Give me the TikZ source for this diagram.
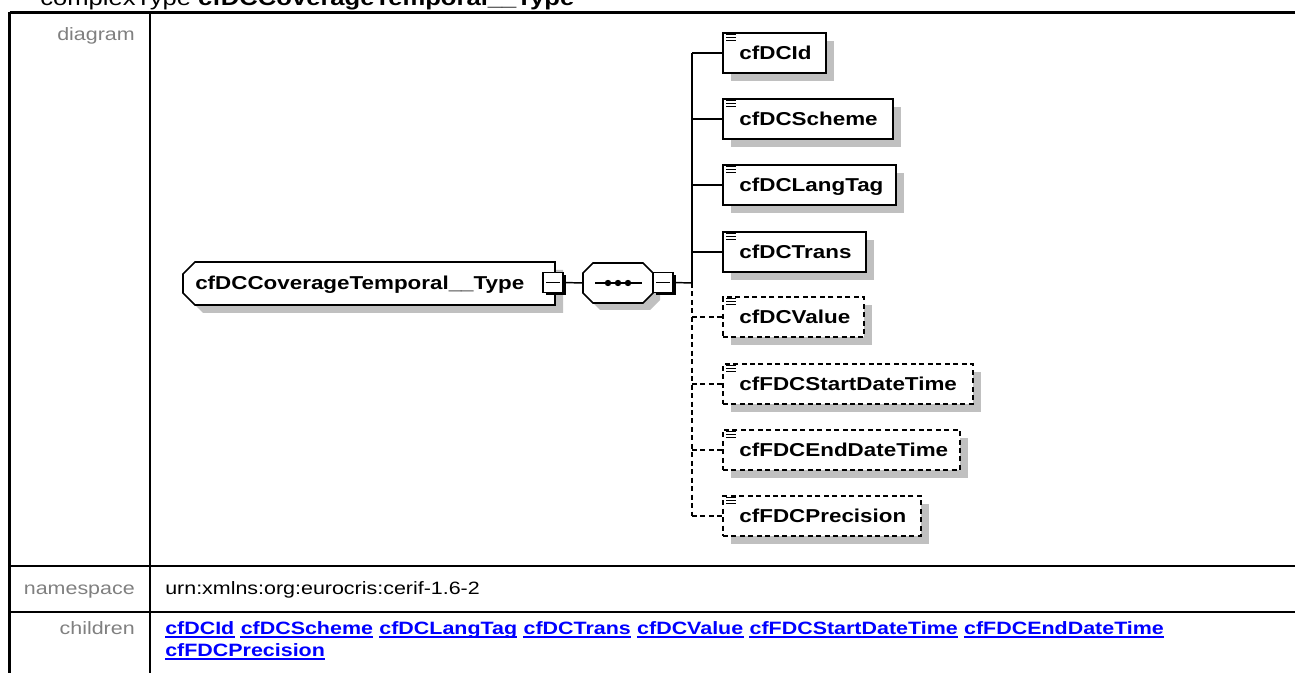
\documentclass[tikz,border=0pt]{standalone}
\usepackage{fontspec}
\setmainfont{Liberation Sans}[FakeStretch=1.2]
\usetikzlibrary{fit,shadows}
\definecolor{shadowgray}{RGB}{192,192,192}
\definecolor{labelgray}{RGB}{128,128,128}
\definecolor{linkblue}{RGB}{0,0,255}
\newcommand{\txtsize}{\fontsize{14pt}{16pt}\selectfont}
\newcommand{\tblsize}{\fontsize{13.4pt}{16pt}\selectfont}
\newcommand{\ttlsize}{\fontsize{16pt}{19pt}\selectfont}
\begin{document}
\begin{tikzpicture}[x=0.75pt,y=-0.75pt,
  tbl/.style={line width=1.6pt},
  conn/.style={line width=1.1pt},
  dconn/.style={line width=1.1pt, dash pattern=on 3.75pt off 2.6pt},
  elem/.style={draw, fill=white, line width=1.2pt, inner sep=0pt,
    drop shadow={shadow xshift=6pt, shadow yshift=-6pt, fill=shadowgray, opacity=1}},
  optelem/.style={elem, dash pattern=on 3.75pt off 2.6pt},
  minusbox/.style={draw, fill=white, line width=1.2pt, minimum size=15pt, inner sep=0pt,
    drop shadow={shadow xshift=2pt, shadow yshift=-2pt, fill=black, opacity=1}},
  txt/.style={font=\txtsize, inner sep=0pt, anchor=base west},
  ttxt/.style={font=\tblsize, inner sep=0pt, anchor=base west},
  link/.style={font=\tblsize\bfseries, text=linkblue, inner sep=0pt, anchor=base west},
  rowlbl/.style={font=\tblsize, text=labelgray, inner sep=0pt, anchor=base east},
  anchorbox/.style={inner sep=0pt}]
\useasboundingbox (0,0) rectangle (1295,673);
% ---- table ----
\draw[tbl] (9.5,12.5) -- (1297,12.5);
\draw[tbl] (9.5,12.5) -- (9.5,675);
\draw[tbl] (150,12.5) -- (150,675);
\draw[tbl] (9.5,566) -- (1297,566);
\draw[tbl] (9.5,612) -- (1297,612);
\node[font=\ttlsize, inner sep=0pt, anchor=base west] (title) at (40,5.5) {complexType \textbf{cfDCCoverageTemporal\_\_Type}};
\node[rowlbl] (ldiagram) at (135,41) {diagram};
\node[rowlbl] (lnamespace) at (135,594) {namespace};
\node[rowlbl] (lchildren) at (135,634) {children};
\node[ttxt] (nsval) at (165,594) {urn:xmlns:org:eurocris:cerif-1.6-2};
% links
\node[link] (k1) at (165,634) {cfDCId};
\node[link] (k2) at ([xshift=4.4pt]k1.base east) {cfDCScheme};
\node[link] (k3) at ([xshift=4.4pt]k2.base east) {cfDCLangTag};
\node[link] (k4) at ([xshift=4.4pt]k3.base east) {cfDCTrans};
\node[link] (k5) at ([xshift=4.4pt]k4.base east) {cfDCValue};
\node[link] (k6) at ([xshift=4.4pt]k5.base east) {cfFDCStartDateTime};
\node[link] (k7) at ([xshift=4.4pt]k6.base east) {cfFDCEndDateTime};
\node[link] (k8) at (165,656) {cfFDCPrecision};
\foreach \k in {k1,k2,k3,k4,k5,k6,k7,k8}
  \draw[linkblue, line width=1.3pt] ([yshift=-2.2pt]\k.base west) -- ([yshift=-2.2pt]\k.base east);
% ---- root complex type ----
\fill[shadowgray] (203,270) -- (563,270) -- (563,313) -- (203,313) -- (191,301) -- (191,282) -- cycle;
\draw[line width=1.2pt, fill=white] (195,262) -- (555,262) -- (555,305) -- (195,305) -- (183,293) -- (183,274) -- cycle;
\node[anchorbox, fit={(183,262)(555,305)}] (root) {};
\node[txt, font=\txtsize\bfseries] (roottext) at (195,289.5) {cfDCCoverageTemporal\_\_Type};
\node[minusbox] (rm) at (553,282.5) {};
\draw[line width=1.2pt] ([xshift=3pt]rm.west) -- ([xshift=-3pt]rm.east);
% ---- sequence ----
\fill[shadowgray] (600,270) -- (650,270) -- (660,280) -- (660,300) -- (650,310) -- (600,310) -- (590,300) -- (590,280) -- cycle;
\draw[line width=1.2pt, fill=white] (593,263) -- (643,263) -- (653,273) -- (653,293) -- (643,303) -- (593,303) -- (583,293) -- (583,273) -- cycle;
\node[anchorbox, fit={(583,263)(653,303)}] (seq) {};
\draw[line width=1.1pt] (595,283) -- (642,283);
\foreach \dx in {608,618,628} \fill (\dx,283) circle (2.4pt);
\node[minusbox] (sm) at (663,282.5) {};
\draw[line width=1.2pt] ([xshift=3pt]sm.west) -- ([xshift=-3pt]sm.east);
% ---- connectors root -> seq -> bus ----
\coordinate (bus) at (692,283);
\draw[conn] (rm.east) -- (seq.west);
\draw[conn] (sm.east) -- (bus);
% ---- children ----
\node[elem, fit={(723,33)(826,73)}] (c1) {};
\node[elem, fit={(723,99)(893,139)}] (c2) {};
\node[elem, fit={(723,165)(896,205)}] (c3) {};
\node[elem, fit={(723,232)(866,272)}] (c4) {};
\node[optelem, fit={(723,297)(864,337)}] (c5) {};
\node[optelem, fit={(723,364)(973,404)}] (c6) {};
\node[optelem, fit={(723,430)(960,470)}] (c7) {};
\node[optelem, fit={(723,496)(921,536)}] (c8) {};
\foreach \n/\t in {c1/cfDCId,c2/cfDCScheme,c3/cfDCLangTag,c4/cfDCTrans,c5/cfDCValue,c6/cfFDCStartDateTime,c7/cfFDCEndDateTime,c8/cfFDCPrecision}{
  \node[txt, font=\txtsize\bfseries] (\n t) at ([xshift=12.75pt,yshift=-4.8pt]\n.west) {\t};
  \foreach \dy in {2.5,5.5,8.5}
    \draw[line width=0.8pt] ([xshift=3pt,yshift=-\dy*0.75pt]\n.north west) -- ([xshift=10.5pt,yshift=-\dy*0.75pt]\n.north west);
}
\draw[conn] (bus |- c1.west) -- (bus);
\draw[dconn] (bus) -- (bus |- c8.west);
\foreach \n in {c1,c2,c3,c4} \draw[conn] (bus |- \n.west) -- (\n.west);
\foreach \n in {c5,c6,c7,c8} \draw[dconn] (bus |- \n.west) -- (\n.west);
\end{tikzpicture}
\end{document}
